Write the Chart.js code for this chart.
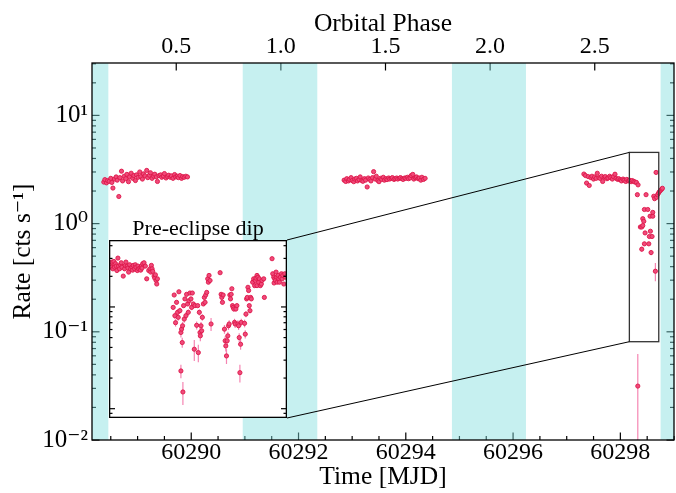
<!DOCTYPE html>
<html>
<head>
<meta charset="utf-8">
<script src="https://cdn.jsdelivr.net/npm/chart.js@4.4.0/dist/chart.umd.min.js"></script>
<style>
  body { margin: 0; background: #fff; }
  #wrap { position: relative; width: 676px; height: 493px; }
  #main { position: absolute; left: 0; top: 0; }
  #inset { position: absolute; left: 109px; top: 240px; }
</style>
</head>
<body>
<div id="wrap">
  <canvas id="main" width="676" height="493"></canvas>
  <canvas id="inset" width="178" height="178"></canvas>
</div>
<script>
// axis ranges and tick labels
var timeMin = 60288.15;
var timeMax = 60299.0;
var timeTicks = [60290, 60292, 60294, 60296, 60298];
var rateMin = 0.01;
var rateMax = 30.5;
var rateTicks = [0.01, 0.1, 1, 10];
var rateTickLabels = ['10⁻²', '10⁻¹', '10⁰', '10¹'];
var phaseTicks = [0.5, 1.0, 1.5, 2.0, 2.5];
var phaseTickLabels = ['0.5', '1.0', '1.5', '2.0', '2.5'];
var phaseT0 = 60287.77;    // MJD of phase 0
var phasePeriod = 3.901;   // days

// eclipse intervals (MJD)
var eclipseStart = [60287.50, 60290.96, 60294.86, 60298.75];
var eclipseEnd = [60288.455, 60292.35, 60296.24, 60300.00];

// zoomed region shown in the inset
var zoomTime = [60298.168, 60298.716];
var zoomRate = [0.081, 4.55];

// light curve, first orbit segment
var seg1Time = [60288.37, 60288.39, 60288.42, 60288.44, 60288.47, 60288.50, 60288.52, 60288.54, 60288.57, 60288.60,
  60288.62, 60288.65, 60288.67, 60288.70, 60288.72, 60288.75, 60288.78, 60288.80, 60288.83, 60288.85,
  60288.88, 60288.91, 60288.93, 60288.96, 60288.98, 60289.01, 60289.04, 60289.06, 60289.09, 60289.11,
  60289.14, 60289.17, 60289.19, 60289.22, 60289.24, 60289.27, 60289.30, 60289.32, 60289.35, 60289.37,
  60289.40, 60289.43, 60289.45, 60289.48, 60289.50, 60289.53, 60289.56, 60289.58, 60289.61, 60289.63,
  60289.66, 60289.69, 60289.71, 60289.74, 60289.76, 60289.79, 60289.82, 60289.84, 60289.87, 60289.90, 60289.93];
var seg1Rate = [2.42, 2.55, 2.38, 2.50, 2.46, 2.62, 2.40, 2.13, 2.58, 2.70,
  2.52, 1.78, 2.66, 3.05, 2.48, 2.74, 2.60, 2.85, 2.44, 2.70,
  2.92, 2.62, 2.78, 2.50, 2.82, 2.68, 3.00, 2.72, 2.58, 2.88,
  2.76, 3.10, 2.66, 2.80, 2.95, 2.62, 2.74, 2.86, 2.70, 2.45,
  2.78, 2.82, 2.68, 2.75, 2.90, 2.64, 2.72, 2.80, 2.68, 2.76,
  2.62, 2.84, 2.70, 2.74, 2.66, 2.78, 2.62, 2.72, 2.68, 2.74, 2.70];

// second segment
var seg2Time = [60292.85, 60292.88, 60292.90, 60292.93, 60292.95, 60292.98, 60293.00, 60293.03, 60293.05, 60293.08,
  60293.10, 60293.13, 60293.15, 60293.18, 60293.20, 60293.23, 60293.25, 60293.28, 60293.30, 60293.33,
  60293.35, 60293.38, 60293.40, 60293.43, 60293.45, 60293.48, 60293.50, 60293.53, 60293.55, 60293.58,
  60293.60, 60293.63, 60293.65, 60293.68, 60293.70, 60293.73, 60293.75, 60293.78, 60293.80, 60293.83,
  60293.85, 60293.88, 60293.90, 60293.93, 60293.95, 60293.98, 60294.00, 60294.03, 60294.05, 60294.08,
  60294.10, 60294.13, 60294.15, 60294.18, 60294.20, 60294.23, 60294.25, 60294.28, 60294.30, 60294.33, 60294.36];
var seg2Rate = [2.52, 2.45, 2.60, 2.48, 2.56, 2.66, 2.50, 2.44, 2.58, 2.62,
  2.48, 2.55, 2.70, 2.50, 2.46, 2.60, 2.52, 2.18, 2.64, 2.56,
  2.48, 2.66, 3.02, 2.58, 2.74, 2.50, 2.44, 2.62, 2.56, 2.68,
  2.52, 2.60, 2.55, 2.64, 2.58, 2.62, 2.66, 2.56, 2.60, 2.64,
  2.58, 2.62, 2.66, 2.60, 2.56, 2.64, 2.62, 2.68, 2.60, 2.64,
  2.78, 2.85, 2.58, 2.66, 2.70, 2.60, 2.64, 2.52, 2.68, 2.56, 2.62];

// third segment, before the dip
var seg3Time = [60297.32, 60297.35, 60297.37, 60297.40, 60297.42, 60297.45, 60297.47, 60297.50, 60297.52, 60297.55,
  60297.57, 60297.60, 60297.62, 60297.65, 60297.67, 60297.70, 60297.72, 60297.75, 60297.77, 60297.80,
  60297.82, 60297.85, 60297.87, 60297.90, 60297.92, 60297.95, 60297.97, 60298.00, 60298.02, 60298.05,
  60298.07, 60298.10, 60298.12, 60298.15, 60298.17, 60298.20, 60298.22, 60298.25, 60298.27, 60298.30, 60298.33];
var seg3Rate = [2.87, 2.78, 2.37, 2.72, 2.25, 2.66, 2.74, 2.58, 2.70, 2.62,
  2.92, 2.66, 2.62, 2.74, 2.45, 2.68, 2.72, 2.60, 2.64, 2.74,
  2.66, 2.58, 2.72, 2.86, 2.62, 2.56, 2.60, 2.54, 2.48, 2.58,
  2.52, 2.45, 2.56, 2.48, 2.52, 2.44, 2.50, 2.46, 2.42, 2.40, 2.28];

// the dip, main panel binning
var dipTime = [60298.317, 60298.325, 60298.373, 60298.399, 60298.399, 60298.418, 60298.418, 60298.437, 60298.448, 60298.448,
  60298.461, 60298.479, 60298.511, 60298.530, 60298.541, 60298.554, 60298.560, 60298.573, 60298.591, 60298.604,
  60298.604, 60298.623, 60298.638, 60298.653, 60298.666, 60298.675, 60298.694, 60298.713, 60298.731, 60298.750,
  60298.769, 60298.784];
var dipRate = [1.85, 0.0315, 0.93, 0.93, 0.58, 1.11, 0.96, 1.05, 1.35, 0.65,
  0.82, 1.85, 1.35, 0.65, 0.76, 1.17, 0.85, 0.54, 0.76, 1.17,
  1.27, 1.79, 1.70, 0.363, 2.97, 1.75, 1.85, 1.92, 1.98, 2.03,
  2.08, 2.12];
var dipErr = [0.03, 0.031, 0.03, 0.03, 0.03, 0.03, 0.03, 0.03, 0.03, 0.03,
  0.03, 0.03, 0.03, 0.03, 0.03, 0.03, 0.03, 0.03, 0.03, 0.03,
  0.03, 0.03, 0.03, 0.07, 0.04, 0.03, 0.03, 0.03, 0.03, 0.03,
  0.03, 0.03];

// the dip, finer binning for the inset
var insetTime = [60298.1727, 60298.1747, 60298.1768, 60298.1799, 60298.1830, 60298.1850, 60298.1881, 60298.1902, 60298.1923, 60298.1954,
  60298.1974, 60298.2005, 60298.2036, 60298.2057, 60298.2078, 60298.2119, 60298.2160, 60298.2181, 60298.2201, 60298.2242,
  60298.2263, 60298.2284, 60298.2315, 60298.2346, 60298.2387, 60298.2408, 60298.2428, 60298.2470, 60298.2490, 60298.2511,
  60298.2552, 60298.2573, 60298.2593, 60298.2635, 60298.2655, 60298.2676, 60298.2697, 60298.2717, 60298.2758, 60298.2800,
  60298.2841, 60298.2903, 60298.2944, 60298.2965, 60298.2985, 60298.3006, 60298.3026, 60298.3068, 60298.3088, 60298.3109,
  60298.3130, 60298.3150, 60298.3171,
  60298.3656, 60298.3687, 60298.3708, 60298.3729, 60298.3760, 60298.3791, 60298.3811, 60298.3832, 60298.3863, 60298.3894,
  60298.3894, 60298.3914, 60298.3935, 60298.3945, 60298.3955, 60298.3976, 60298.3997, 60298.4017, 60298.4048, 60298.4069,
  60298.4100, 60298.4121, 60298.4141, 60298.4172, 60298.4203, 60298.4224, 60298.4245, 60298.4276, 60298.4306, 60298.4327,
  60298.4379, 60298.4410, 60298.4430, 60298.4461, 60298.4482, 60298.4492, 60298.4513, 60298.4533, 60298.4554, 60298.4585,
  60298.4616, 60298.4637, 60298.4657, 60298.4688, 60298.4719, 60298.4740, 60298.4760, 60298.4791, 60298.4822, 60298.5101,
  60298.5132, 60298.5153, 60298.5173, 60298.5194, 60298.5235, 60298.5256, 60298.5276, 60298.5297, 60298.5318, 60298.5338,
  60298.5359, 60298.5380, 60298.5400, 60298.5421, 60298.5441, 60298.5462, 60298.5483, 60298.5503, 60298.5524, 60298.5545,
  60298.5565, 60298.5586, 60298.5617, 60298.5648, 60298.5669, 60298.5689, 60298.5710, 60298.5731, 60298.5751, 60298.5854,
  60298.5875, 60298.5896, 60298.5916, 60298.5937, 60298.5958, 60298.5978, 60298.5999, 60298.6020, 60298.6040, 60298.6061,
  60298.6102, 60298.6133, 60298.6164, 60298.6185, 60298.6205, 60298.6236, 60298.6236, 60298.6267, 60298.6288, 60298.6309,
  60298.6339, 60298.6370, 60298.6391, 60298.6443, 60298.6463, 60298.6700, 60298.6721, 60298.6752, 60298.6762, 60298.6783,
  60298.6804, 60298.6824, 60298.6845, 60298.6855, 60298.6886, 60298.6907, 60298.6927, 60298.6958, 60298.6989, 60298.7010,
  60298.7031, 60298.7062, 60298.7093, 60298.7113];
var insetRate = [2.60, 2.46, 2.76, 2.37, 2.80, 2.46, 2.66, 2.52, 2.28, 3.02,
  2.52, 2.37, 2.60, 2.72, 2.46, 2.01, 2.37, 2.56, 2.76, 2.52,
  2.41, 2.20, 2.60, 2.37, 2.46, 2.30, 2.56, 2.37, 2.60, 2.46,
  2.28, 2.52, 2.37, 2.41, 2.30, 2.52, 2.41, 2.66, 2.72, 2.52,
  1.89, 2.28, 2.37, 2.20, 2.56, 2.37, 2.24, 2.01, 1.92, 2.07,
  1.82, 1.68, 1.89,
  0.99, 1.31, 0.82, 0.70, 1.11, 0.885, 0.79, 1.41, 0.92, 0.561,
  0.235, 0.605, 0.447, 0.653, 0.146, 1.03, 0.76, 1.20, 0.82, 1.33,
  1.07, 0.885, 1.15, 1.37, 1.20, 0.99, 1.37, 1.07, 0.384, 1.03,
  0.66, 1.03, 0.356, 0.885, 0.561, 0.52, 0.653, 0.583, 0.79, 1.07,
  1.24, 1.11, 1.31, 1.39, 1.89, 1.75, 2.04, 1.82, 0.68, 2.17,
  1.33, 1.24, 1.11, 1.31, 0.605, 0.465, 0.414, 0.33, 0.465, 0.52,
  0.653, 0.68, 1.31, 1.20, 1.33, 1.51, 1.03, 0.99, 0.955, 0.705,
  0.68, 0.955, 1.03, 0.68, 0.653, 0.50, 0.226, 0.43, 0.705, 0.69,
  0.54, 0.85, 1.20, 1.24, 1.56, 1.45, 1.03, 0.92, 1.24, 1.20,
  1.75, 1.89, 1.62, 1.82, 1.92, 2.04, 1.62, 1.96, 1.75, 1.89,
  1.62, 1.68, 1.82, 1.89, 1.24, 2.98, 2.12, 1.96, 1.72, 1.89,
  1.82, 2.20, 1.96, 1.75, 2.04, 1.89, 1.75, 1.96, 2.12, 1.89,
  2.04, 1.68, 2.12, 1.96];
var insetErr = [0.06, 0.06, 0.06, 0.06, 0.06, 0.06, 0.06, 0.06, 0.06, 0.06,
  0.06, 0.06, 0.06, 0.06, 0.06, 0.06, 0.06, 0.06, 0.06, 0.06,
  0.06, 0.06, 0.06, 0.06, 0.06, 0.06, 0.06, 0.06, 0.06, 0.06,
  0.06, 0.06, 0.06, 0.06, 0.06, 0.06, 0.06, 0.06, 0.06, 0.06,
  0.06, 0.06, 0.06, 0.06, 0.06, 0.06, 0.06, 0.06, 0.06, 0.06,
  0.06, 0.06, 0.06,
  0.05, 0.05, 0.06, 0.06, 0.05, 0.06, 0.06, 0.05, 0.06, 0.06,
  0.036, 0.06, 0.05, 0.06, 0.037, 0.05, 0.06, 0.05, 0.06, 0.05,
  0.05, 0.06, 0.05, 0.05, 0.05, 0.06, 0.05, 0.05, 0.09, 0.05,
  0.06, 0.05, 0.07, 0.06, 0.06, 0.06, 0.06, 0.06, 0.06, 0.05,
  0.05, 0.05, 0.05, 0.05, 0.06, 0.06, 0.06, 0.06, 0.10, 0.06,
  0.05, 0.05, 0.05, 0.05, 0.06, 0.05, 0.05, 0.055, 0.05, 0.05,
  0.06, 0.06, 0.05, 0.05, 0.05, 0.05, 0.05, 0.06, 0.06, 0.06,
  0.06, 0.06, 0.05, 0.06, 0.06, 0.05, 0.045, 0.05, 0.06, 0.06,
  0.05, 0.06, 0.05, 0.05, 0.05, 0.05, 0.05, 0.06, 0.05, 0.05,
  0.06, 0.06, 0.06, 0.06, 0.06, 0.06, 0.06, 0.06, 0.06, 0.06,
  0.06, 0.06, 0.06, 0.06, 0.05, 0.08, 0.06, 0.06, 0.06, 0.06,
  0.06, 0.06, 0.06, 0.06, 0.06, 0.06, 0.06, 0.06, 0.06, 0.06,
  0.06, 0.06, 0.06, 0.06];

// layout of the inset (pixels on the page)
var insetLeft = 109;
var insetTop = 240;
var insetSize = 178;

var pointFill = '#f04a7a';
var pointEdge = '#dc1648';
var errColor = 'rgba(244, 120, 170, 0.9)';
var bandColor = 'rgba(128, 222, 222, 0.45)';
var serif = "'Liberation Serif', 'DejaVu Serif', serif";

Chart.defaults.font.family = serif;
Chart.defaults.color = '#000';

function toPoints(t, r) {
    var pts = [];
    for (var i = 0; i < t.length; i++) {
        pts.push({ x: t[i], y: r[i] });
    }
    return pts;
}

function makeSet(t, r, e) {
    return {
        data: toPoints(t, r),
        errors: e,
        pointRadius: 2.1,
        pointBorderWidth: 0.9,
        pointBackgroundColor: pointFill,
        pointBorderColor: pointEdge,
        showLine: false
    };
}

// log ticks (major at decades, minor at 2..9)
function logTickList(min, max) {
    var list = [];
    for (var d = Math.floor(Math.log10(min)); d <= Math.ceil(Math.log10(max)); d++) {
        for (var k = 1; k <= 9; k++) {
            var v = k * Math.pow(10, d);
            if (v >= min * 0.9999 && v <= max * 1.0001) {
                list.push({ v: v, major: k === 1 });
            }
        }
    }
    return list;
}

function seg(ctx, x0, y0, x1, y1) {
    ctx.beginPath();
    ctx.moveTo(x0, y0);
    ctx.lineTo(x1, y1);
    ctx.stroke();
}

// error bars for datasets that carry an errors array
var errorBars = {
    id: 'errorBars',
    beforeDatasetsDraw: function(chart) {
        var ctx = chart.ctx, a = chart.chartArea;
        var xs = chart.scales.x, ys = chart.scales.y;
        ctx.save();
        ctx.beginPath();
        ctx.rect(a.left, a.top, a.right - a.left, a.bottom - a.top);
        ctx.clip();
        ctx.strokeStyle = errColor;
        ctx.lineWidth = 1.2;
        chart.data.datasets.forEach(function(ds) {
            if (!ds.errors) return;
            ds.data.forEach(function(p, i) {
                var e = ds.errors[i];
                var px = xs.getPixelForValue(p.x);
                var lo = Math.max(p.y - e, 1e-6);
                seg(ctx, px, ys.getPixelForValue(p.y + e), px, ys.getPixelForValue(lo));
            });
        });
        ctx.restore();
    }
};

// background, inward ticks, eclipse bands, frame, zoom box
var mainDecor = {
    id: 'mainDecor',
    beforeDraw: function(chart) {
        var ctx = chart.ctx;
        ctx.save();
        ctx.fillStyle = '#fff';
        ctx.fillRect(0, 0, chart.width, chart.height);
        ctx.restore();
    },
    beforeDatasetsDraw: function(chart) {
        var ctx = chart.ctx, a = chart.chartArea;
        var xs = chart.scales.x, ys = chart.scales.y, ps = chart.scales.x2;
        ctx.save();
        ctx.strokeStyle = '#000';
        ctx.lineWidth = 1.2;
        // bottom: major every 2 d, minor every 0.5 d
        for (var t = Math.ceil(timeMin * 2) / 2; t <= timeMax; t += 0.5) {
            var px = xs.getPixelForValue(t);
            var len = timeTicks.indexOf(t) >= 0 ? 7.5 : 4;
            seg(ctx, px, a.bottom, px, a.bottom - len);
        }
        // top: orbital phase
        phaseTicks.forEach(function(p) {
            var px = ps.getPixelForValue(p);
            seg(ctx, px, a.top, px, a.top + 7.5);
        });
        // left and right: log
        logTickList(rateMin, rateMax).forEach(function(tk) {
            var py = ys.getPixelForValue(tk.v);
            var len = tk.major ? 7.5 : 4;
            seg(ctx, a.left, py, a.left + len, py);
            seg(ctx, a.right, py, a.right - len, py);
        });
        // eclipses
        ctx.beginPath();
        ctx.rect(a.left, a.top, a.right - a.left, a.bottom - a.top);
        ctx.clip();
        ctx.fillStyle = bandColor;
        for (var i = 0; i < eclipseStart.length; i++) {
            var x0 = xs.getPixelForValue(eclipseStart[i]);
            var x1 = xs.getPixelForValue(eclipseEnd[i]);
            ctx.fillRect(x0, a.top, x1 - x0, a.bottom - a.top);
        }
        ctx.restore();
    },
    afterDraw: function(chart) {
        var ctx = chart.ctx, a = chart.chartArea;
        var xs = chart.scales.x, ys = chart.scales.y;
        ctx.save();
        ctx.strokeStyle = '#000';
        ctx.lineWidth = 1.3;
        ctx.strokeRect(a.left, a.top, a.right - a.left, a.bottom - a.top);
        // zoom box
        var bx0 = xs.getPixelForValue(zoomTime[0]), bx1 = xs.getPixelForValue(zoomTime[1]);
        var by0 = ys.getPixelForValue(zoomRate[1]), by1 = ys.getPixelForValue(zoomRate[0]);
        ctx.strokeStyle = '#333';
        ctx.strokeRect(bx0, by0, bx1 - bx0, by1 - by0);
        // connectors to the inset
        ctx.strokeStyle = '#000';
        ctx.lineWidth = 1;
        seg(ctx, bx0, by0, insetLeft + insetSize, insetTop);
        seg(ctx, bx0, by1, insetLeft + insetSize, insetTop + insetSize);
        // inset title
        ctx.fillStyle = '#000';
        ctx.font = '22px ' + serif;
        ctx.textAlign = 'center';
        ctx.textBaseline = 'alphabetic';
        ctx.fillText('Pre-eclipse dip', insetLeft + insetSize / 2, insetTop - 5);
        ctx.restore();
    }
};

var insetDecor = {
    id: 'insetDecor',
    beforeDraw: function(chart) {
        var ctx = chart.ctx;
        ctx.save();
        ctx.fillStyle = '#fff';
        ctx.fillRect(0, 0, chart.width, chart.height);
        ctx.restore();
    },
    afterDraw: function(chart) {
        var ctx = chart.ctx, a = chart.chartArea, ys = chart.scales.y;
        ctx.save();
        ctx.strokeStyle = '#000';
        ctx.lineWidth = 1.2;
        logTickList(zoomRate[0], zoomRate[1]).forEach(function(tk) {
            var py = ys.getPixelForValue(tk.v);
            var len = tk.major ? 6 : 3.5;
            seg(ctx, a.left, py, a.left + len, py);
            seg(ctx, a.right, py, a.right - len, py);
        });
        ctx.lineWidth = 1.3;
        ctx.strokeRect(a.left + 0.65, a.top + 0.65, a.right - a.left - 1.3, a.bottom - a.top - 1.3);
        ctx.restore();
    }
};

var mainChart = new Chart(document.getElementById('main'), {
    type: 'scatter',
    data: {
        datasets: [
            makeSet(seg1Time, seg1Rate, null),
            makeSet(seg2Time, seg2Rate, null),
            makeSet(seg3Time, seg3Rate, null),
            makeSet(dipTime, dipRate, dipErr)
        ]
    },
    options: {
        responsive: false,
        animation: false,
        devicePixelRatio: 1,
        layout: { autoPadding: false, padding: { left: 0, right: 2, top: 0, bottom: 0 } },
        plugins: { legend: { display: false }, tooltip: { enabled: false } },
        scales: {
            x: {
                type: 'linear',
                position: 'bottom',
                min: timeMin,
                max: timeMax,
                grid: { display: false, drawTicks: false },
                border: { display: false },
                afterBuildTicks: function(s) { s.ticks = timeTicks.map(function(v) { return { value: v }; }); },
                ticks: {
                    padding: 1.2, autoSkip: false, maxRotation: 0,
                    font: { size: 24, lineHeight: 1 },
                    callback: function(v) { return String(v); }
                },
                title: { display: true, text: 'Time [MJD]', font: { size: 25.5, lineHeight: 1 }, padding: { top: 0, bottom: 3.2 } },
                afterFit: function(s) { s.height = 53; }
            },
            x2: {
                type: 'linear',
                position: 'top',
                min: (timeMin - phaseT0) / phasePeriod,
                max: (timeMax - phaseT0) / phasePeriod,
                grid: { display: false, drawTicks: false },
                border: { display: false },
                afterBuildTicks: function(s) { s.ticks = phaseTicks.map(function(v) { return { value: v }; }); },
                ticks: {
                    padding: 4.1, autoSkip: false, maxRotation: 0,
                    font: { size: 24, lineHeight: 1 },
                    callback: function(v, i) { return phaseTickLabels[i]; }
                },
                title: { display: true, text: 'Orbital Phase', font: { size: 25.5, lineHeight: 1 }, padding: { top: 11.2, bottom: 0 } },
                afterFit: function(s) { s.height = 63; }
            },
            y: {
                type: 'logarithmic',
                position: 'left',
                min: rateMin,
                max: rateMax,
                grid: { display: false, drawTicks: false },
                border: { display: false },
                afterBuildTicks: function(s) { s.ticks = rateTicks.map(function(v) { return { value: v }; }); },
                ticks: {
                    padding: 4, autoSkip: false,
                    font: { size: 25, lineHeight: 1 },
                    callback: function(v, i) { return rateTickLabels[i]; }
                },
                title: { display: true, text: 'Rate [cts s⁻¹]', font: { size: 25.5, lineHeight: 1 }, padding: { top: 10.4, bottom: 0 } },
                afterFit: function(s) { s.width = 92; }
            }
        }
    },
    plugins: [mainDecor, errorBars]
});

var insetChart = new Chart(document.getElementById('inset'), {
    type: 'scatter',
    data: { datasets: [makeSet(insetTime, insetRate, insetErr)] },
    options: {
        responsive: false,
        animation: false,
        devicePixelRatio: 1,
        layout: { autoPadding: false, padding: 0 },
        plugins: { legend: { display: false }, tooltip: { enabled: false } },
        scales: {
            x: { type: 'linear', display: false, min: zoomTime[0], max: zoomTime[1] },
            y: { type: 'logarithmic', display: false, min: zoomRate[0], max: zoomRate[1] }
        }
    },
    plugins: [insetDecor, errorBars]
});
</script>
</body>
</html>
